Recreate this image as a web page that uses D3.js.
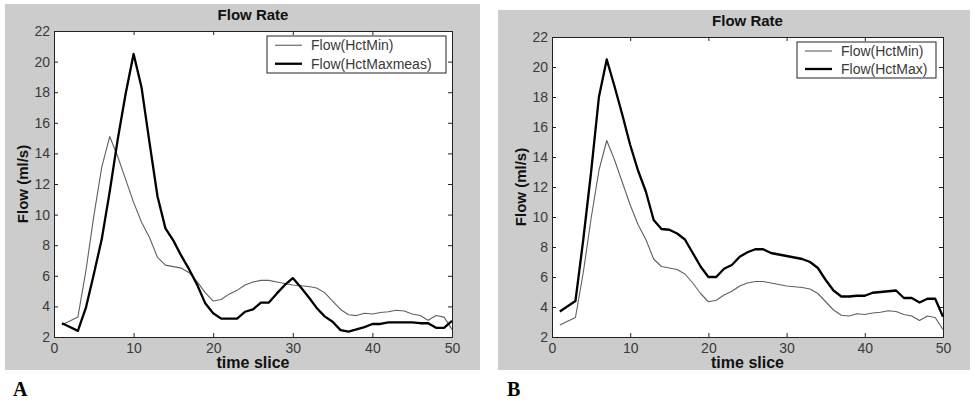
<!DOCTYPE html>
<html>
<head>
<meta charset="utf-8">
<script src="https://cdn.jsdelivr.net/npm/d3@7"></script>
<style>
  html, body { margin: 0; padding: 0; background: #ffffff; }
  svg { display: block; }
</style>
</head>
<body>
<svg id="chart" width="973" height="402"></svg>
<script>
// ---- data ----
const timeSlices = d3.range(1, 51);
const xTicks = [0, 10, 20, 30, 40, 50];
const yTicks = [2, 4, 6, 8, 10, 12, 14, 16, 18, 20, 22];

const flowHctMin = [
  2.8, 3.05, 3.3, 6.3, 9.9, 13.1, 15.1, 13.8, 12.3, 10.8,
  9.5, 8.5, 7.2, 6.7, 6.6, 6.5, 6.2, 5.6, 4.9, 4.35,
  4.45, 4.8, 5.05, 5.4, 5.6, 5.7, 5.7, 5.6, 5.5, 5.4,
  5.35, 5.3, 5.2, 4.9, 4.35, 3.8, 3.45, 3.4, 3.55, 3.5,
  3.6, 3.65, 3.75, 3.7, 3.5, 3.4, 3.1, 3.4, 3.3, 2.5
];
const flowHctMaxmeas = [
  2.9, 2.65, 2.4, 3.9, 6.1, 8.4, 11.5, 14.9, 17.9, 20.5,
  18.3, 14.7, 11.2, 9.1, 8.3, 7.3, 6.4, 5.4, 4.2, 3.55,
  3.2, 3.2, 3.2, 3.65, 3.8, 4.25, 4.25, 4.85, 5.4, 5.85,
  5.25, 4.6, 3.9, 3.35, 3.0, 2.45, 2.35, 2.5, 2.65, 2.85,
  2.85, 2.95, 2.95, 2.95, 2.95, 2.9, 2.9, 2.6, 2.6, 3.05
];
const flowHctMax = [
  3.7, 4.05, 4.4, 8.5, 13.0, 18.0, 20.5, 18.7, 16.8, 14.8,
  13.1, 11.7, 9.8, 9.2, 9.15, 8.9, 8.5, 7.6, 6.7, 6.0,
  6.0, 6.55, 6.8, 7.35, 7.65, 7.85, 7.85, 7.6, 7.5, 7.4,
  7.3, 7.2, 7.0, 6.6, 5.8, 5.1, 4.7, 4.7, 4.75, 4.75,
  4.95, 5.0, 5.05, 5.1, 4.6, 4.6, 4.3, 4.55, 4.55, 3.35
];

const panels = [
  { tag: "A", bg: [5, 4, 480, 370], plot: [54, 31, 452, 337],
    titleY: 19.5, yLabelX: 22, legend: [267, 36, 446, 73],
    legendNames: ["Flow(HctMin)", "Flow(HctMaxmeas)"],
    thin: flowHctMin, thick: flowHctMaxmeas, tagX: 13 },
  { tag: "B", bg: [498, 10, 970, 370], plot: [552, 37, 943, 337],
    titleY: 26, yLabelX: 520, legend: [797, 42, 936, 78],
    legendNames: ["Flow(HctMin)", "Flow(HctMax)"],
    thin: flowHctMin, thick: flowHctMax, tagX: 507 }
];

const svg = d3.select("#chart");
const FONT = "'Liberation Sans', Arial, Helvetica, sans-serif";

panels.forEach(p => {
  const g = svg.append("g");
  const [bx0, by0, bx1, by1] = p.bg;
  g.append("rect").attr("x", bx0).attr("y", by0)
    .attr("width", bx1 - bx0).attr("height", by1 - by0).attr("fill", "#cccccc");

  const [px0, py0, px1, py1] = p.plot;
  const x = d3.scaleLinear().domain([0, 50]).range([px0, px1]);
  const y = d3.scaleLinear().domain([2, 22]).range([py1, py0]);

  g.append("rect").attr("x", px0).attr("y", py0)
    .attr("width", px1 - px0).attr("height", py1 - py0).attr("fill", "#ffffff");

  // axes: ticks inside, MATLAB style, all four sides
  const tl = 4;
  const axB = g.append("g").attr("transform", `translate(0,${py1})`)
    .call(d3.axisBottom(x).tickValues(xTicks).tickSize(-tl).tickPadding(6));
  const axT = g.append("g").attr("transform", `translate(0,${py0})`)
    .call(d3.axisTop(x).tickValues(xTicks).tickSize(-tl).tickFormat(""));
  const axL = g.append("g").attr("transform", `translate(${px0},0)`)
    .call(d3.axisLeft(y).tickValues(yTicks).tickSize(-tl).tickPadding(4));
  const axR = g.append("g").attr("transform", `translate(${px1},0)`)
    .call(d3.axisRight(y).tickValues(yTicks).tickSize(-tl).tickFormat(""));
  [axB, axT, axL, axR].forEach(a => {
    a.select(".domain").attr("stroke", "#222").attr("stroke-width", 1);
    a.selectAll(".tick line").attr("stroke", "#222");
    a.selectAll("text").attr("font-family", FONT).attr("font-size", 14)
      .attr("fill", "#3a3a3a");
  });

  // lines
  const line = vals => d3.line()
    .x((d, i) => x(timeSlices[i]))
    .y(d => y(d))(vals);
  g.append("path").attr("d", line(p.thin)).attr("fill", "none")
    .attr("stroke", "#606060").attr("stroke-width", 1.1).attr("stroke-linejoin", "round");
  g.append("path").attr("d", line(p.thick)).attr("fill", "none")
    .attr("stroke", "#000000").attr("stroke-width", 2.3).attr("stroke-linejoin", "round");

  // title
  g.append("text").attr("x", (px0 + px1) / 2).attr("y", p.titleY)
    .attr("text-anchor", "middle").attr("font-family", FONT)
    .attr("font-weight", "bold").attr("font-size", 15).attr("fill", "#111")
    .text("Flow Rate");
  // x label
  g.append("text").attr("x", (px0 + px1) / 2).attr("y", 368)
    .attr("text-anchor", "middle").attr("font-family", FONT)
    .attr("font-weight", "bold").attr("font-size", 16).attr("fill", "#111")
    .text("time slice");
  // y label
  g.append("text")
    .attr("transform", `translate(${p.yLabelX + 6},${(py0 + py1) / 2}) rotate(-90)`)
    .attr("text-anchor", "middle").attr("font-family", FONT)
    .attr("font-weight", "bold").attr("font-size", 15).attr("fill", "#111")
    .text("Flow (ml/s)");

  // legend
  const [lx0, ly0, lx1, ly1] = p.legend;
  g.append("rect").attr("x", lx0).attr("y", ly0)
    .attr("width", lx1 - lx0).attr("height", ly1 - ly0)
    .attr("fill", "#ffffff").attr("stroke", "#222").attr("stroke-width", 1);
  const rowH = (ly1 - ly0) / 2;
  p.legendNames.forEach((name, i) => {
    const cy = ly0 + rowH * (i + 0.5);
    g.append("line").attr("x1", lx0 + 8).attr("x2", lx0 + 35)
      .attr("y1", cy).attr("y2", cy)
      .attr("stroke", i === 0 ? "#606060" : "#000")
      .attr("stroke-width", i === 0 ? 1.1 : 2.3);
    g.append("text").attr("x", lx0 + 44).attr("y", cy + 5)
      .attr("font-family", FONT).attr("font-size", 14).attr("fill", "#3a3a3a")
      .text(name);
  });

  // panel tag
  g.append("text").attr("x", p.tagX).attr("y", 396)
    .attr("font-family", "'Liberation Serif', 'Times New Roman', serif")
    .attr("font-weight", "bold").attr("font-size", 20).attr("fill", "#000")
    .text(p.tag);
});
</script>
</body>
</html>
